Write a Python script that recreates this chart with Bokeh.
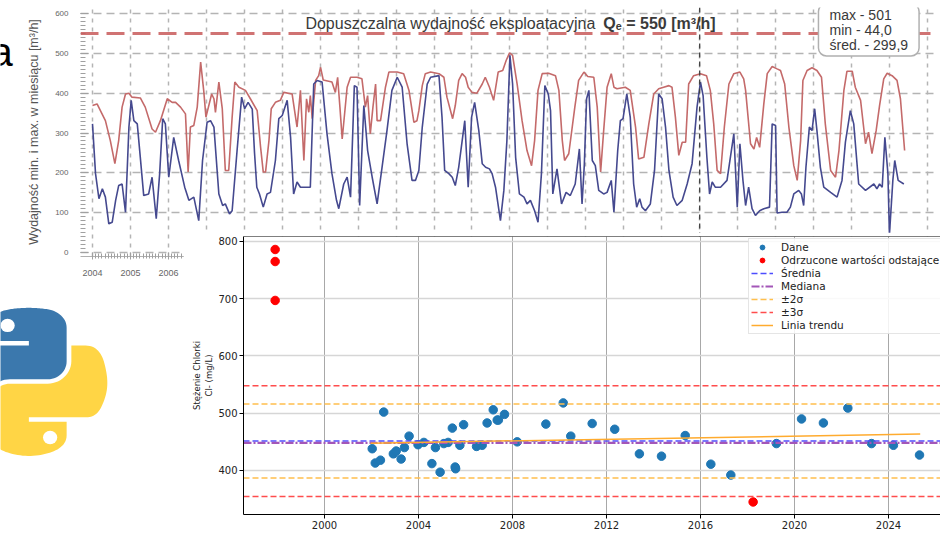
import re
from bokeh.plotting import figure
from bokeh.layouts import column, row
from bokeh.models import Range1d, Span, Label, Legend, LegendItem, FixedTicker
from bokeh.core.properties import value
from bokeh.embed import file_html
from bokeh.resources import INLINE

# ---------------- foreground chart: chlorides ----------------
dane_year = [2002.03, 2002.16, 2002.38, 2002.52, 2002.93, 2003.05, 2003.26, 2003.40, 2003.60, 2003.98,
             2004.23, 2004.57, 2004.72, 2004.92, 2005.08, 2005.26, 2005.44, 2005.56, 2005.58, 2005.76,
             2005.92, 2006.47, 2006.71, 2006.92, 2007.18, 2007.35, 2007.40, 2007.66, 2008.20, 2009.42,
             2010.16, 2010.48, 2011.39, 2012.35, 2013.40, 2014.34, 2015.35, 2016.44, 2017.29, 2019.23,
             2020.30, 2021.23, 2022.27, 2023.28, 2024.21, 2025.32]
dane_val = [438, 413, 418, 502, 429, 434, 420, 440, 460, 445,
            449, 412, 440, 397, 447, 449, 474, 406, 403, 444,
            480, 442, 444, 483, 506, 488, 488, 498, 450, 481,
            518, 460, 482, 472, 429, 425, 461, 411, 392, 447,
            490, 483, 509, 447, 444, 427]
odrz_year = [1997.9, 1997.9, 1997.9, 2018.24]
odrz_val = [786, 765, 697, 345]
srednia = 451.3
mediana = 448.2
sigma2 = [386.7, 515.9]
sigma3 = [354.4, 548.2]
trend_year = [2001.96, 2025.35]
trend_val = [447.7, 463.5]
sc_xticks = [2000, 2004, 2008, 2012, 2016, 2020, 2024]
sc_yticks = [400, 500, 600, 700, 800]
legend_labels = ["Dane", "Odrzucone wartości odstające", "Średnia", "Mediana", "±2σ", "±3σ", "Linia trendu"]

# ---------------- background chart: monthly yield ----------------
bg_max_year = [2004.00, 2004.12, 2004.34, 2004.47, 2004.59, 2004.69, 2004.78, 2004.87, 2004.96, 2005.04,
               2005.26, 2005.39, 2005.57, 2005.66, 2005.79, 2005.97, 2006.10, 2006.19, 2006.32, 2006.45,
               2006.52, 2006.58, 2006.67, 2006.76, 2006.85, 2006.93, 2006.99, 2007.14, 2007.20, 2007.24,
               2007.33, 2007.42, 2007.50, 2007.59, 2007.68, 2007.75, 2007.86, 2008.03, 2008.16, 2008.34,
               2008.43, 2008.50, 2008.56, 2008.65, 2008.71, 2008.82, 2008.95, 2009.04, 2009.26, 2009.39,
               2009.48, 2009.57, 2009.64, 2009.70, 2009.74, 2009.79, 2009.88, 2009.96, 2010.01, 2010.08,
               2010.31, 2010.40, 2010.46, 2010.52, 2010.58, 2010.71, 2010.80, 2010.97, 2011.10, 2011.19,
               2011.25, 2011.32, 2011.39, 2011.46, 2011.50, 2011.59, 2011.72, 2011.81, 2012.03, 2012.20,
               2012.34, 2012.47, 2012.55, 2012.60, 2012.69, 2012.77, 2012.91, 2013.13, 2013.26, 2013.34,
               2013.49, 2013.56, 2013.65, 2013.74, 2013.83, 2013.90, 2014.00, 2014.13, 2014.27, 2014.35,
               2014.46, 2014.57, 2014.69, 2014.81, 2014.90, 2014.99, 2015.07, 2015.19, 2015.32, 2015.45,
               2015.57, 2015.65, 2015.74, 2015.85, 2016.02, 2016.20, 2016.29, 2016.38, 2016.44, 2016.55,
               2016.71, 2016.81, 2016.95, 2017.05, 2017.21, 2017.30, 2017.39, 2017.47, 2017.56, 2017.67,
               2017.74, 2017.82, 2018.04, 2018.17, 2018.31, 2018.39, 2018.53, 2018.66, 2018.79, 2018.92,
               2019.05, 2019.19, 2019.27, 2019.36, 2019.45, 2019.54, 2019.63, 2019.71, 2019.84, 2020.02,
               2020.18, 2020.28, 2020.37, 2020.46, 2020.55, 2020.65, 2020.77, 2020.90, 2021.06, 2021.16,
               2021.21, 2021.34, 2021.43, 2021.50, 2021.58, 2021.69, 2021.78, 2021.91, 2022.04, 2022.13,
               2022.24, 2022.35, 2022.48, 2022.57, 2022.66, 2022.72, 2022.83, 2022.96, 2023.09, 2023.21,
               2023.31, 2023.45, 2023.58, 2023.67, 2023.80, 2023.88, 2024.02, 2024.10, 2024.24, 2024.37,
               2024.45, 2024.54, 2024.65, 2024.74, 2024.85, 2024.94, 2025.07, 2025.20, 2025.29, 2025.40]
bg_max_val = [369, 373, 331, 281, 223, 281, 365, 398, 400, 390,
              388, 365, 310, 302, 331, 386, 377, 377, 365, 348,
              202, 315, 319, 365, 478, 407, 340, 398, 386, 352,
              428, 361, 206, 206, 340, 428, 415, 407, 386, 356,
              264, 202, 202, 281, 361, 377, 382, 402, 398, 315,
              407, 231, 386, 352, 394, 336, 432, 444, 465, 433,
              428, 402, 440, 365, 285, 415, 440, 440, 436, 365,
              394, 298, 365, 423, 331, 331, 415, 453, 453, 449,
              407, 327, 331, 356, 419, 449, 453, 449, 440, 390,
              336, 369, 432, 449, 440, 415, 402, 400, 423, 440,
              415, 382, 453, 457, 482, 501, 495, 423, 331, 256,
              218, 281, 407, 449, 450, 444, 407, 281, 231, 248,
              365, 432, 453, 442, 440, 365, 202, 306, 415, 449,
              415, 411, 415, 407, 315, 235, 239, 323, 398, 411,
              415, 419, 415, 340, 244, 277, 277, 423, 444, 449,
              444, 407, 323, 206, 198, 315, 423, 449, 453, 436,
              407, 273, 260, 289, 264, 373, 449, 467, 461, 457,
              423, 315, 218, 181, 281, 432, 457, 464, 457, 440,
              323, 206, 189, 256, 407, 455, 455, 415, 382, 273,
              302, 248, 306, 369, 436, 450, 444, 432, 386, 256]
bg_min_year = [2004.00, 2004.08, 2004.17, 2004.26, 2004.34, 2004.43, 2004.52, 2004.61, 2004.69, 2004.78,
               2004.87, 2004.96, 2005.02, 2005.09, 2005.18, 2005.26, 2005.35, 2005.48, 2005.57, 2005.68,
               2005.77, 2005.85, 2005.92, 2006.01, 2006.14, 2006.27, 2006.43, 2006.54, 2006.67, 2006.80,
               2006.90, 2007.02, 2007.11, 2007.20, 2007.33, 2007.43, 2007.50, 2007.61, 2007.68, 2007.81,
               2007.93, 2008.01, 2008.10, 2008.21, 2008.27, 2008.33, 2008.40, 2008.50, 2008.60, 2008.69,
               2008.82, 2008.91, 2009.00, 2009.13, 2009.22, 2009.30, 2009.39, 2009.48, 2009.57, 2009.66,
               2009.74, 2009.83, 2009.92, 2010.05, 2010.18, 2010.31, 2010.43, 2010.49, 2010.62, 2010.71,
               2010.80, 2010.90, 2010.97, 2011.04, 2011.15, 2011.25, 2011.37, 2011.50, 2011.63, 2011.76,
               2011.89, 2012.03, 2012.16, 2012.29, 2012.42, 2012.51, 2012.60, 2012.69, 2012.82, 2012.91,
               2013.13, 2013.21, 2013.28, 2013.39, 2013.48, 2013.56, 2013.65, 2013.81, 2013.90, 2013.99,
               2014.07, 2014.18, 2014.27, 2014.36, 2014.46, 2014.53, 2014.62, 2014.75, 2014.84, 2014.92,
               2015.00, 2015.07, 2015.15, 2015.25, 2015.37, 2015.45, 2015.54, 2015.65, 2015.74, 2015.83,
               2015.92, 2016.01, 2016.07, 2016.13, 2016.24, 2016.36, 2016.48, 2016.59, 2016.72, 2016.83,
               2016.90, 2016.96, 2017.02, 2017.08, 2017.17, 2017.25, 2017.34, 2017.47, 2017.56, 2017.67,
               2017.74, 2017.84, 2017.91, 2017.98, 2018.08, 2018.17, 2018.26, 2018.34, 2018.42, 2018.48,
               2018.57, 2018.70, 2018.81, 2018.92, 2019.01, 2019.10, 2019.19, 2019.30, 2019.40, 2019.54,
               2019.67, 2019.80, 2019.93, 2020.02, 2020.09, 2020.19, 2020.26, 2020.33, 2020.41, 2020.55,
               2020.72, 2020.90, 2020.99, 2021.06, 2021.14, 2021.21, 2021.29, 2021.38, 2021.47, 2021.58,
               2021.69, 2021.84, 2021.91, 2022.00, 2022.04, 2022.17, 2022.30, 2022.39, 2022.48, 2022.61,
               2022.68, 2022.74, 2022.80, 2022.89, 2022.96, 2023.03, 2023.09, 2023.18, 2023.27, 2023.45,
               2023.62, 2023.75, 2023.84, 2023.97, 2024.06, 2024.19, 2024.37, 2024.59, 2024.67, 2024.74,
               2024.81, 2024.88, 2024.96, 2025.00, 2025.09, 2025.14, 2025.23, 2025.38]
bg_min_val = [323, 198, 135, 160, 139, 72, 76, 131, 168, 172,
              101, 315, 382, 331, 323, 239, 143, 147, 189, 85,
              198, 336, 323, 189, 289, 231, 164, 131, 139, 80,
              231, 327, 331, 315, 147, 118, 122, 97, 105, 256,
              390, 361, 377, 360, 250, 164, 147, 114, 147, 151,
              231, 336, 344, 382, 289, 147, 177, 164, 164, 164,
              164, 423, 432, 428, 298, 198, 131, 110, 172, 189,
              139, 419, 415, 118, 369, 256, 189, 122, 214, 306,
              407, 440, 415, 273, 181, 181, 206, 315, 423, 440,
              444, 340, 206, 198, 189, 168, 214, 331, 164, 340,
              377, 306, 223, 214, 210, 198, 164, 80, 156, 281,
              495, 423, 239, 147, 139, 122, 131, 105, 76, 198,
              419, 398, 356, 147, 210, 122, 151, 143, 172, 260,
              122, 220, 386, 407, 231, 218, 156, 147, 151, 181,
              101, 256, 331, 336, 398, 340, 172, 114, 135, 114,
              105, 122, 206, 398, 386, 315, 206, 139, 118, 131,
              172, 223, 365, 428, 394, 239, 147, 177, 164, 164,
              181, 298, 114, 273, 181, 118, 164, 110, 93, 105,
              110, 114, 323, 319, 99, 101, 101, 114, 147, 156,
              147, 118, 214, 315, 306, 361, 306, 214, 164, 151,
              139, 181, 277, 356, 323, 172, 156, 172, 160, 172,
              164, 289, 198, 44, 181, 231, 181, 172]
bg_limit = 550
bg_mark_year = 2020
bg_yticks = [0, 100, 200, 300, 400, 500, 600]
bg_years = list(range(2004, 2027))
bg_title_a = "Dopuszczalna wydajność eksploatacyjna "
bg_title_b = "Qₑ = 550 [m³/h]"
bg_stats = ["max - 501", "min - 44,0", "śred. - 299,9"]
bg_ylabel = "Wydajność min. i max. w miesiącu [m³/h]"
edge_letter = "a"

# ---------------- Python logo outline (SVG path of the logo) ----------------
LOGO_BLUE = ("M 54.918785,9.1927421e-4 C 50.335132,0.02221727 45.957846,0.41313697 42.106285,1.0946693 "
             "30.760069,3.0991731 28.700036,7.2947714 28.700035,15.032169 v 10.21875 h 26.8125 v 3.40625 "
             "h -26.8125 -10.0625 c -7.792459,0 -14.6157588,4.683717 -16.7499998,13.59375 "
             "-2.46181998,10.212966 -2.57101508,16.586023 0,27.25 1.9059283,7.937852 6.4575432,13.593748 "
             "14.2499998,13.59375 h 9.21875 v -12.25 c 0,-8.849902 7.657144,-16.656248 16.75,-16.65625 "
             "h 26.78125 c 7.454951,0 13.406253,-6.138164 13.40625,-13.625 v -25.53125 "
             "c 0,-7.2663343 -6.12998,-12.7247004 -13.40625,-13.9374997 "
             "C 64.281548,0.32794397 59.502438,-0.02037903 54.918785,9.1927421e-4 Z")
LOGO_YELLOW = ("M 85.637535,28.657169 v 11.90625 c 0,9.230755 -7.825895,16.999999 -16.75,17 h -26.78125 "
               "c -7.335833,0 -13.406249,6.278483 -13.40625,13.625 v 25.531247 "
               "c 0,7.266344 6.318588,11.540324 13.40625,13.625004 8.487331,2.49561 16.626237,2.94663 26.78125,0 "
               "6.750155,-1.95439 13.406253,-5.88761 13.40625,-13.625004 V 86.500919 h -26.78125 v -3.40625 "
               "h 26.78125 13.406254 c 7.792461,0 10.696251,-5.435408 13.406241,-13.59375 "
               "2.79933,-8.398886 2.68022,-16.475776 0,-27.25 -1.925638,-7.757441 -5.603779,-13.59375 "
               "-13.406241,-13.59375 Z")
LOGO_EYES = [(40.42, 13.34), (70.58, 98.41)]
LOGO_EYE_R = 5.06


def path_points(d, steps=14):
    toks = re.findall(r"[A-Za-z]|[-+]?(?:\d+\.?\d*|\.\d+)(?:[eE][-+]?\d+)?", d)
    i = 0
    cmd = None
    cx = cy = sx = sy = 0.0
    xs, ys = [], []
    while i < len(toks):
        t = toks[i]
        if t.isalpha():
            cmd = t
            i += 1
            if cmd in "Zz":
                cx, cy = sx, sy
                continue
        if cmd in "Mm":
            x, y = float(toks[i]), float(toks[i + 1]); i += 2
            if cmd == "m":
                x += cx; y += cy
            cx, cy = sx, sy = x, y
            xs.append(x); ys.append(y)
            cmd = "l" if cmd == "m" else "L"
        elif cmd in "Ll":
            x, y = float(toks[i]), float(toks[i + 1]); i += 2
            if cmd == "l":
                x += cx; y += cy
            cx, cy = x, y
            xs.append(x); ys.append(y)
        elif cmd in "Hh":
            x = float(toks[i]); i += 1
            cx = cx + x if cmd == "h" else x
            xs.append(cx); ys.append(cy)
        elif cmd in "Vv":
            y = float(toks[i]); i += 1
            cy = cy + y if cmd == "v" else y
            xs.append(cx); ys.append(cy)
        elif cmd in "Cc":
            v = [float(t2) for t2 in toks[i:i + 6]]; i += 6
            if cmd == "c":
                v = [v[0] + cx, v[1] + cy, v[2] + cx, v[3] + cy, v[4] + cx, v[5] + cy]
            x0, y0 = cx, cy
            for k in range(1, steps + 1):
                s = k / steps
                a, b, c, e = (1 - s) ** 3, 3 * (1 - s) ** 2 * s, 3 * (1 - s) * s ** 2, s ** 3
                xs.append(a * x0 + b * v[0] + c * v[2] + e * v[4])
                ys.append(a * y0 + b * v[1] + c * v[3] + e * v[5])
            cx, cy = v[4], v[5]
        else:
            i += 1
    return xs, ys


# ---------------- background chart figure ----------------
BG_X0, BG_X1 = 2003.684, 2026.214
BG_Y0, BG_Y1 = -10.0, 615.1
bg = figure(width=940, height=285, x_range=Range1d(BG_X0, BG_X1), y_range=Range1d(BG_Y0, BG_Y1),
            output_backend="svg", toolbar_location=None, title=None,
            min_border_left=80, min_border_right=5, min_border_top=7, min_border_bottom=29)
bg.outline_line_color = None
bg.background_fill_color = "white"
bg.border_fill_color = "white"

bg.yaxis.ticker = FixedTicker(ticks=bg_yticks, minor_ticks=list(range(0, 601, 10)))
bg.xaxis.ticker = FixedTicker(ticks=bg_years,
                              minor_ticks=[bg_years[0] + k / 12 for k in range(12 * (len(bg_years) - 1) + 1)])
for ax in (bg.xaxis[0], bg.yaxis[0]):
    ax.axis_line_color = "#b0b0b0"
    ax.major_tick_line_color = "#a0a0a0"
    ax.minor_tick_line_color = "#a0a0a0"
    ax.major_label_text_font = "Liberation Sans"
    ax.major_label_text_color = "#666666"
bg.yaxis.axis_line_color = None
bg.yaxis.major_tick_in = 8
bg.yaxis.major_tick_out = 0
bg.yaxis.minor_tick_in = 5
bg.yaxis.minor_tick_out = 0
bg.yaxis.major_label_standoff = 12
bg.yaxis.major_label_text_font_size = "8px"
bg.yaxis.axis_label = bg_ylabel
bg.yaxis.axis_label_text_font = "Liberation Sans"
bg.yaxis.axis_label_text_font_size = "12.5px"
bg.yaxis.axis_label_text_font_style = "normal"
bg.yaxis.axis_label_text_color = "#555555"
bg.yaxis.axis_label_standoff = 11
bg.xaxis.major_tick_in = 4
bg.xaxis.major_tick_out = 3
bg.xaxis.minor_tick_in = 3
bg.xaxis.minor_tick_out = 2
bg.xaxis.major_label_standoff = 10
bg.xaxis.major_label_text_font_size = "9px"

bg.ygrid.grid_line_color = "#b4b4b4"
bg.ygrid.grid_line_dash = "8 5"
bg.ygrid.grid_line_width = 1.5
bg.xgrid.grid_line_color = "#b4b4b4"
bg.xgrid.grid_line_dash = "4 5"
bg.xgrid.grid_line_width = 1.5

bg.add_layout(Span(location=bg_mark_year, dimension="height", line_color="#404040",
                   line_width=1.3, line_dash="5 4"))
bg.add_layout(Span(location=bg_limit, dimension="width", line_color="#c85a5a", line_alpha=0.85,
                   line_width=3, line_dash="18 8"))

bg.line(bg_max_year, bg_max_val, line_color="#c46a6a", line_width=1.6)
bg.line(bg_min_year, bg_min_val, line_color="#45498f", line_width=1.6)

bg.add_layout(Label(x=2009.61, y=575, text=bg_title_a, text_font="Liberation Sans",
                    text_font_size="16px", text_color="#3a3a3a", text_baseline="alphabetic"))
bg.add_layout(Label(x=2017.46, y=575, text=bg_title_b, text_font="Liberation Sans",
                    text_font_size="16px", text_font_style="bold", text_color="#3a3a3a",
                    text_baseline="alphabetic"))
bg.add_layout(Label(x=2023.13, y=625, text="\n".join(bg_stats), text_font="Liberation Sans",
                    text_font_size="14px", text_color="#3a3a3a", text_align="left", text_baseline="top",
                    text_line_height=0.95, background_fill_color="white",
                    border_line_color="#b0b0b0", border_line_width=1.5, padding=(11, 3), border_radius=8))

# ---------------- Python logo figure (transparent overlay on the left, full height) ----------------
logo = figure(width=183, height=538, x_range=Range1d(0, 183), y_range=Range1d(538, 0),
              output_backend="svg", toolbar_location=None, title=None,
              x_axis_location=None, y_axis_location=None,
              min_border=0, min_border_left=0, min_border_right=0, min_border_top=0, min_border_bottom=0)
logo.grid.visible = False
logo.outline_line_color = None
logo.background_fill_color = None
logo.border_fill_color = None
LSX, LSY, LOX, LOY = 1.41, 1.39, -49.9, 320.0
for dpath, col in ((LOGO_BLUE, "#3b78ad"), (LOGO_YELLOW, "#ffd545")):
    px, py = path_points(dpath)
    logo.patch([LOX + LSX * v for v in px], [LOY + LSY * v for v in py], fill_color=col, line_color=None)
logo.ellipse([LOX + LSX * e[0] for e in LOGO_EYES], [LOY + LSY * e[1] for e in LOGO_EYES],
             width=2 * LOGO_EYE_R * LSX, height=2 * LOGO_EYE_R * LSY, fill_color="white", line_color=None)
# cut-off letter from the slide text at the left edge
logo.text(x=[-10], y=[50], text=[edge_letter], text_font=value("Liberation Sans"), text_font_size="40px",
          text_color="black", text_align="left", text_baseline="alphabetic")

# ---------------- scatter figure ----------------
SX0, SX1 = 1996.553, 2026.213
SY0, SY1 = 323.1, 808.7
sc = figure(width=757, height=306, x_range=Range1d(SX0, SX1), y_range=Range1d(SY0, SY1),
            output_backend="svg", toolbar_location=None, title=None,
            min_border_left=60, min_border_right=0, min_border_top=4, min_border_bottom=24,
            margin=(232, 0, 0, 0))
sc.outline_line_color = None
sc.background_fill_color = "white"
sc.border_fill_color = "white"
sc.xaxis.ticker = FixedTicker(ticks=sc_xticks)
sc.yaxis.ticker = FixedTicker(ticks=sc_yticks)
for ax in (sc.xaxis[0], sc.yaxis[0]):
    ax.axis_line_color = "black"
    ax.axis_line_width = 1
    ax.major_tick_line_color = "black"
    ax.major_tick_in = 0
    ax.major_tick_out = 4
    ax.minor_tick_line_color = None
    ax.major_label_text_font = "DejaVu Sans"
    ax.major_label_text_font_size = "10px"
    ax.major_label_text_color = "#222222"
sc.xaxis.major_label_standoff = 2
sc.yaxis.major_label_standoff = 2
sc.yaxis.axis_label = "Stężenie Chlorki\nCl- (mg/L)"
sc.yaxis.axis_label_text_font = "DejaVu Sans"
sc.yaxis.axis_label_text_font_size = "8.5px"
sc.yaxis.axis_label_text_font_style = "normal"
sc.yaxis.axis_label_text_color = "#222222"
sc.yaxis.axis_label_standoff = 1
sc.xgrid.grid_line_color = "#a8a8a8"
sc.xgrid.grid_line_width = 1
sc.ygrid.grid_line_color = "#d6d6d6"
sc.ygrid.grid_line_width = 1.5
sc.add_layout(Span(location=SY1, dimension="width", line_color="black", line_width=1))

r_dane = sc.scatter(dane_year, dane_val, size=8.5, fill_color="#1f77b4", line_color="#1f77b4")
r_odrz = sc.scatter(odrz_year, odrz_val, size=8.5, fill_color="#ff0000", line_color="#ff0000")
r_mean = sc.line([SX0, SX1], [srednia, srednia], line_color="#4d4dff", line_width=1.5, line_dash="6 3")
r_med = sc.line([SX0, SX1], [mediana, mediana], line_color="#a356b8", line_width=2.2, line_dash="8 2 2 2")
r_s2 = sc.multi_line([[SX0, SX1], [SX0, SX1]], [[sigma2[0]] * 2, [sigma2[1]] * 2],
                     line_color="#ffbf4d", line_width=1.5, line_dash="6 3")
r_s3 = sc.multi_line([[SX0, SX1], [SX0, SX1]], [[sigma3[0]] * 2, [sigma3[1]] * 2],
                     line_color="#ff4d4d", line_width=1.5, line_dash="6 3")
r_trend = sc.line(trend_year, trend_val, line_color="#ffab2e", line_width=1.5)

legend = Legend(items=[LegendItem(label=lab, renderers=[r]) for lab, r in
                       zip(legend_labels, [r_dane, r_odrz, r_mean, r_med, r_s2, r_s3, r_trend])],
                location=(505, 180), label_text_font="DejaVu Sans", label_text_font_size="10.5px",
                label_text_color="#222222", border_line_color="#cccccc", background_fill_alpha=0.85,
                padding=2, spacing=1, glyph_height=12, glyph_width=22, label_height=12,
                label_standoff=8, margin=0)
sc.add_layout(legend)
sc.add_layout(Label(x=2011.4, y=296.9, text="Data", text_font="DejaVu Sans", text_font_size="10px",
                    text_color="#222222", text_align="center", text_baseline="top"))

lower = row(logo, sc, margin=(-285, 0, 0, 0))
root = column(bg, lower)

open("out.html", "w").write(file_html(root, INLINE))
